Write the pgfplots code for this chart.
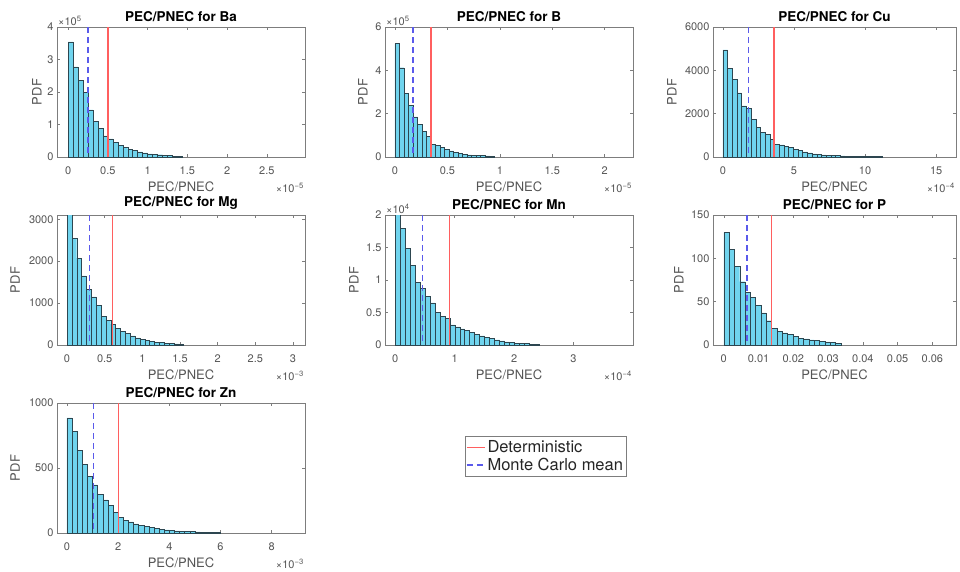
\documentclass[border=0pt]{standalone}
\usepackage{pgfplots}
\pgfplotsset{compat=1.18}
\usepackage{fontspec}
\setmainfont{TeX Gyre Heros}
\definecolor{barfill}{RGB}{112,212,238}
\definecolor{baredge}{RGB}{45,70,80}
\definecolor{detred}{RGB}{255,95,95}
\definecolor{mcblue}{RGB}{90,90,235}
\definecolor{axgray}{RGB}{125,125,125}
\definecolor{txtgray}{RGB}{85,85,85}
\tikzset{
  ymul/.style={anchor=south west, font=\fontsize{11}{12}\selectfont, text=txtgray, inner sep=1pt},
  xmul/.style={anchor=north east, font=\fontsize{11}{12}\selectfont, text=txtgray, yshift=-25pt, inner sep=1pt},
}
\pgfplotsset{
  hist/.style={
    scale only axis, height=130pt, anchor=south west,
    axis line style={axgray, line width=0.6pt},
    major tick style={axgray, line width=0.5pt},
    tick align=inside, major tick length=3pt,
    scaled ticks=false,
    clip mode=individual,
    ticklabel style={font=\fontsize{11}{12}\selectfont, text=txtgray},
    xticklabel style={yshift=-6pt},
    /pgf/number format/assume math mode=true,
    xlabel={PEC/PNEC}, ylabel={PDF},
    xlabel style={font=\fontsize{13}{14}\selectfont, text=txtgray},
    every axis y label/.style={rotate=90, anchor=center},
    ylabel style={font=\fontsize{13}{14}\selectfont, text=txtgray},
    title style={font=\bfseries\fontsize{13.5}{14}\selectfont, yshift=-4pt},
    ymin=0,
  },
  ylab/.style={ylabel style={at={(axis description cs:#1,0.5)}}},
  bars/.style={ybar interval, fill=barfill, draw=baredge, line width=0.45pt, forget plot},
  det/.style={detred, line width=1.3pt},
  mc/.style={mcblue, line width=1.4pt, dash pattern=on 6pt off 4pt},
}
\begin{document}
\begin{tikzpicture}
\path[use as bounding box] (0pt,0pt) rectangle (960pt,-571pt);

% ---------- Ba ----------
\begin{axis}[hist, ylab=-0.081, at={(57pt,-157pt)}, width=248pt, title={PEC/PNEC for Ba},
  xmin=-0.14, xmax=2.98, ymax=4,
  xtick={0,0.5,1,1.5,2,2.5}, xticklabels={0,0.5,1,1.5,2,2.5},
  ytick={0,1,2,3,4}, yticklabels={0,1,2,3,4}]
\addplot[bars] table[row sep=\\, header=false, x expr=\coordindex*0.0625, y index=0]
{3.54\\2.77\\2.36\\2.00\\1.45\\1.10\\0.88\\0.65\\0.56\\0.45\\0.36\\0.30\\0.24\\0.20\\0.16\\0.13\\0.10\\0.08\\0.07\\0.05\\0.04\\0.03\\0.03\\0\\};
\addplot[det] coordinates {(0.5,0) (0.5,4)};
\addplot[mc] coordinates {(0.25,4) (0.25,0)};
\node[ymul] at (rel axis cs:0,1) {×10\textsuperscript{5}};
\node[xmul] at (rel axis cs:1,0) {×10\textsuperscript{−5}};
\end{axis}

% ---------- B ----------
\begin{axis}[hist, ylab=-0.089, at={(385pt,-157pt)}, width=248pt, title={PEC/PNEC for B},
  xmin=-0.095, xmax=2.27, ymax=6,
  xtick={0,0.5,1,1.5,2}, xticklabels={0,0.5,1,1.5,2},
  ytick={0,2,4,6}, yticklabels={0,2,4,6}]
\addplot[bars] table[row sep=\\, header=false, x expr=\coordindex*0.043, y index=0]
{5.23\\4.12\\2.95\\2.40\\1.85\\1.50\\1.20\\0.95\\0.60\\0.55\\0.45\\0.36\\0.28\\0.22\\0.17\\0.13\\0.10\\0.08\\0.07\\0.06\\0.05\\0.04\\0\\};
\addplot[det] coordinates {(0.344,0) (0.344,6)};
\addplot[mc] coordinates {(0.172,6) (0.172,0)};
\node[ymul] at (rel axis cs:0,1) {×10\textsuperscript{5}};
\node[xmul] at (rel axis cs:1,0) {×10\textsuperscript{−5}};
\end{axis}

% ---------- Cu ----------
\begin{axis}[hist, ylab=-0.169, at={(713pt,-157pt)}, width=243pt, title={PEC/PNEC for Cu},
  xmin=-0.7, xmax=16.4, ymax=6000,
  xtick={0,5,10,15}, xticklabels={0,5,10,15},
  ytick={0,2000,4000,6000}, yticklabels={0,2000,4000,6000}]
\addplot[bars] table[row sep=\\, header=false, x expr=\coordindex*0.33, y index=0]
{4940\\4100\\3580\\2960\\2360\\2230\\1750\\1370\\1140\\1060\\820\\600\\560\\500\\430\\360\\290\\240\\190\\150\\120\\100\\90\\75\\60\\50\\45\\40\\35\\30\\25\\20\\20\\15\\0\\};
\addplot[det] coordinates {(3.6,0) (3.6,6000)};
\addplot[mc] coordinates {(1.81,6000) (1.81,0)};
\node[xmul] at (rel axis cs:1,0) {×10\textsuperscript{−4}};
\end{axis}

% ---------- Mg ----------
\begin{axis}[hist, ylab=-0.169, at={(57pt,-345pt)}, width=248pt, title={PEC/PNEC for Mg},
  xmin=-0.133, xmax=3.16, ymax=3100,
  xtick={0,0.5,1,1.5,2,2.5,3}, xticklabels={0,0.5,1,1.5,2,2.5,3},
  ytick={0,1000,2000,3000}, yticklabels={0,1000,2000,3000}]
\addplot[bars] table[row sep=\\, header=false, x expr=\coordindex*0.0645, y index=0]
{3130\\2550\\2070\\1650\\1330\\1150\\950\\690\\580\\500\\400\\330\\270\\220\\170\\140\\110\\90\\70\\55\\45\\35\\28\\20\\0\\};
\addplot[det] coordinates {(0.606,0) (0.606,3100)};
\addplot[mc] coordinates {(0.30,3100) (0.30,0)};
\node[xmul] at (rel axis cs:1,0) {×10\textsuperscript{−3}};
\end{axis}

% ---------- Mn ----------
\begin{axis}[hist, ylab=-0.125, at={(385pt,-345pt)}, width=248pt, title={PEC/PNEC for Mn},
  xmin=-0.17, xmax=4.0, ymax=2,
  xtick={0,1,2,3}, xticklabels={0,1,2,3},
  ytick={0,0.5,1,1.5,2}, yticklabels={0,0.5,1,1.5,2}]
\addplot[bars] table[row sep=\\, header=false, x expr=\coordindex*0.0836, y index=0]
{2.03\\1.79\\1.49\\1.23\\0.96\\0.87\\0.75\\0.65\\0.50\\0.44\\0.41\\0.31\\0.28\\0.25\\0.22\\0.19\\0.16\\0.14\\0.12\\0.10\\0.08\\0.065\\0.05\\0.04\\0.03\\0.025\\0.02\\0.015\\0.01\\0\\};
\addplot[det] coordinates {(0.92,0) (0.92,2)};
\addplot[mc] coordinates {(0.46,2) (0.46,0)};
\node[ymul] at (rel axis cs:0,1) {×10\textsuperscript{4}};
\node[xmul] at (rel axis cs:1,0) {×10\textsuperscript{−4}};
\end{axis}

% ---------- P ----------
\begin{axis}[hist, ylab=-0.140, at={(713pt,-345pt)}, width=243pt, title={PEC/PNEC for P},
  xmin=-0.0031, xmax=0.0668, ymax=150,
  xtick={0,0.01,0.02,0.03,0.04,0.05,0.06}, xticklabels={0,0.01,0.02,0.03,0.04,0.05,0.06},
  ytick={0,50,100,150}, yticklabels={0,50,100,150}]
\addplot[bars] table[row sep=\\, header=false, x expr=\coordindex*0.00153, y index=0]
{130\\110\\91\\73\\61\\55\\46\\37\\28\\19\\16\\14\\12\\10\\8\\7\\6\\5\\4\\3.5\\3\\2\\0\\};
\addplot[det] coordinates {(0.0138,0) (0.0138,150)};
\addplot[mc] coordinates {(0.0067,150) (0.0067,0)};
\end{axis}

% ---------- Zn ----------
\begin{axis}[hist, ylab=-0.169, at={(57pt,-533pt)}, width=248pt, title={PEC/PNEC for Zn},
  xmin=-0.39, xmax=9.3, ymax=1000,
  xtick={0,2,4,6,8}, xticklabels={0,2,4,6,8},
  ytick={0,500,1000}, yticklabels={0,500,1000},
  legend style={at={(1.645,0.746)}, anchor=north west, draw=axgray, fill=white,
    font=\fontsize{16.5}{18}\selectfont, text=black!85, inner xsep=1pt, inner ysep=2.5pt,
    row sep=0pt, cells={anchor=west}},
  legend image code/.code={\draw[#1] (0pt,0pt) -- (18pt,0pt);}]
\addplot[bars] table[row sep=\\, header=false, x expr=\coordindex*0.2, y index=0]
{885\\780\\635\\530\\435\\370\\300\\255\\210\\160\\120\\100\\85\\70\\60\\50\\42\\35\\28\\24\\20\\17\\14\\12\\10\\8\\7\\6\\5\\4\\0\\};
\addplot[det] coordinates {(2.02,0) (2.02,1000)};
\addlegendentry{Deterministic}
\addplot[mc] coordinates {(1.04,1000) (1.04,0)};
\addlegendentry{Monte Carlo mean}
\node[xmul] at (rel axis cs:1,0) {×10\textsuperscript{−3}};
\end{axis}
\end{tikzpicture}
\end{document}
